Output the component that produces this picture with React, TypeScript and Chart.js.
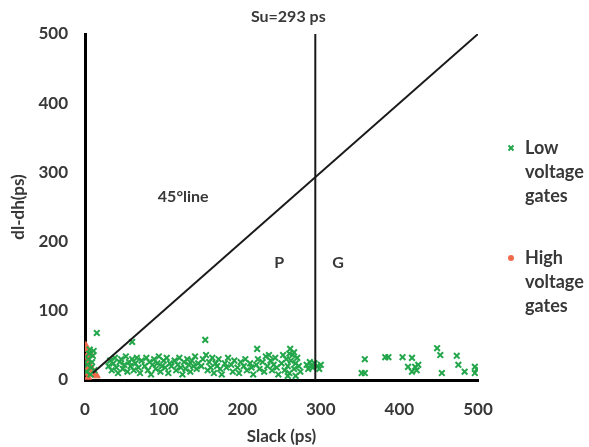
import React, { useEffect, useRef } from "react";
import { Chart, registerables } from "chart.js";

Chart.register(...registerables);

const greenX = [2, 3, 4, 5, 6, 8, 9, 10, 11, 12, 7, 15,
  30, 32, 34, 36, 38, 40, 42, 44, 46, 48, 50, 52, 54, 56, 58, 60, 60, 62, 64, 66, 68, 70, 72,
  76, 78, 80, 82, 84, 86, 88, 90, 92, 94, 96, 98, 100, 102, 104, 106, 108, 110,
  114, 116, 118, 120, 122, 124, 126, 128, 130, 132, 134, 136, 138, 140, 142, 144,
  148, 150, 153, 154, 156, 158, 160, 162, 164, 166, 168, 170, 172, 174,
  178, 180, 182, 186, 188, 190, 194, 196, 198, 202, 204, 206, 210, 212, 214,
  218, 219, 220, 222, 226, 228, 230, 232, 234, 236, 238, 240, 242, 244, 246,
  250, 252, 254, 256, 258, 260, 260, 261, 262, 264, 266, 266, 268, 270, 272, 274, 258, 268,
  282, 284, 286, 288, 290, 292, 296, 298, 300,
  352, 356, 356, 382, 386, 404, 411, 416, 416, 420, 422, 424, 448, 452, 454, 473, 475, 483, 496, 496, 499];
const greenY = [12, 22, 30, 38, 44, 18, 26, 35, 42, 14, 8, 68,
  20, 28, 14, 24, 32, 18, 10, 26, 30, 16, 22, 34, 12, 26, 20, 55, 30, 14, 24, 32, 18, 10, 28,
  20, 32, 14, 26, 8, 22, 30, 16, 24, 34, 12, 20, 28, 18, 32, 10, 24, 20,
  28, 14, 22, 32, 18, 8, 26, 16, 30, 22, 12, 28, 20, 34, 16, 24,
  20, 30, 58, 36, 14, 26, 18, 32, 10, 24, 20, 30, 16, 8,
  24, 18, 32, 22, 12, 28, 18, 10, 26, 20, 30, 14, 24, 18, 8,
  22, 45, 30, 16, 26, 12, 34, 20, 36, 28, 14, 22, 32, 18, 8,
  24, 36, 14, 30, 20, 38, 10, 45, 28, 36, 16, 40, 24, 32, 20, 12, 6, 6,
  22, 16, 26, 20, 18, 24, 20, 16, 22,
  10, 10, 30, 33, 33, 33, 19, 32, 12, 19, 14, 22, 46, 36, 10, 35, 22, 12, 19, 10, 16];

const redX = [1, 2, 2, 3, 3, 3, 5, 6, 8, 10, 12, 15, 4];
const redY = [50, 44, 33, 26, 17, 10, 40, 22, 36, 14, 8, 6, 4];

const xTicks = [0, 100, 200, 300, 400, 500];
const yTicks = [0, 100, 200, 300, 400, 500];

const suValue = 293;
const diagStart = 10;
const diagEnd = 500;

const seriesNames = [["Low", "voltage", "gates"], ["High", "voltage", "gates"]];

const GREEN = "#23a64a";
const RED = "#f26a4b";
const TEXT = "#383838";
const FONT = "Lato";

export default function App() {
  const ref = useRef<HTMLCanvasElement | null>(null);
  useEffect(() => {
    document.body.style.margin = "0";
    const canvas = ref.current!;
    const annot = {
      id: "annot",
      afterDraw(chart: any) {
        const ctx = chart.ctx;
        const xs = chart.scales.x;
        const ys = chart.scales.y;
        ctx.save();
        ctx.fillStyle = TEXT;
        ctx.textAlign = "center";
        ctx.textBaseline = "middle";
        ctx.font = `bold 16px ${FONT}`;
        ctx.fillText("Su=293 ps", xs.getPixelForValue(suValue) - 27, 17);
        ctx.font = `bold 16px ${FONT}`;
        ctx.fillText("45°line", xs.getPixelForValue(125), ys.getPixelForValue(264));
        ctx.fillText("P", xs.getPixelForValue(247), ys.getPixelForValue(169));
        ctx.fillText("G", xs.getPixelForValue(322), ys.getPixelForValue(169));
        // legend
        ctx.textAlign = "left";
        ctx.font = `bold 18px ${FONT}`;
        const lx = 525;
        const tops = [148, 258];
        seriesNames.forEach((lines, i) => {
          lines.forEach((t, j) => {
            ctx.fillStyle = TEXT;
            ctx.fillText(t, lx, tops[i] + j * 24);
          });
        });
        // legend markers
        ctx.strokeStyle = GREEN;
        ctx.lineWidth = 2;
        const mx = 511, my = 148;
        ctx.beginPath();
        ctx.moveTo(mx - 2.5, my - 2.5); ctx.lineTo(mx + 2.5, my + 2.5);
        ctx.moveTo(mx + 2.5, my - 2.5); ctx.lineTo(mx - 2.5, my + 2.5);
        ctx.stroke();
        ctx.fillStyle = RED;
        ctx.beginPath();
        ctx.arc(511, 258, 3, 0, Math.PI * 2);
        ctx.fill();
        ctx.restore();
      },
    };
    const chart = new Chart(canvas, {
      type: "scatter",
      data: {
        datasets: [
          {
            label: "diag",
            data: [{ x: diagStart, y: diagStart }, { x: diagEnd, y: diagEnd }],
            showLine: true,
            borderColor: "#1a1a1a",
            borderWidth: 2,
            pointRadius: 0,
          },
          {
            label: "Su",
            data: [{ x: suValue, y: 0 }, { x: suValue, y: 500 }],
            showLine: true,
            borderColor: "#1a1a1a",
            borderWidth: 2,
            pointRadius: 0,
          },
          {
            label: "Low voltage gates",
            data: greenX.map((x, i) => ({ x, y: greenY[i] })),
            pointStyle: "crossRot",
            pointRadius: 4,
            borderColor: GREEN,
            backgroundColor: GREEN,
            pointBorderWidth: 2,
          },
          {
            label: "High voltage gates",
            data: redX.map((x, i) => ({ x, y: redY[i] })),
            pointStyle: "triangle",
            pointRadius: 4,
            borderColor: RED,
            backgroundColor: RED,
            pointBorderWidth: 1,
          },
        ],
      },
      options: {
        animation: false,
        responsive: false,
        layout: { padding: { top: 34, right: 111, left: 0, bottom: 0 } },
        plugins: { legend: { display: false }, tooltip: { enabled: false } },
        scales: {
          x: {
            type: "linear",
            min: 0,
            max: 500,
            afterBuildTicks: (s: any) => { s.ticks = xTicks.map((v) => ({ value: v })); },
            afterFit: (s: any) => { s.height = 67; },
            grid: { display: false, drawTicks: false },
            border: { display: true, color: "#000", width: 3 },
            ticks: { color: TEXT, font: { family: FONT, size: 17, weight: "bold" }, padding: 19 },
            title: { display: true, text: "Slack (ps)", color: TEXT, font: { family: FONT, size: 17, weight: "bold" }, padding: { top: 0, bottom: 0 } },
          },
          y: {
            type: "linear",
            min: 0,
            max: 500,
            afterBuildTicks: (s: any) => { s.ticks = yTicks.map((v) => ({ value: v })); },
            afterFit: (s: any) => { s.width = 85; },
            grid: { display: false, drawTicks: false },
            border: { display: true, color: "#000", width: 3 },
            ticks: { color: TEXT, font: { family: FONT, size: 17, weight: "bold" }, padding: 17 },
            title: { display: true, text: "dl-dh(ps)", color: TEXT, font: { family: FONT, size: 17, weight: "bold" }, padding: { top: 8, bottom: 0 } },
          },
        },
      },
      plugins: [annot],
    } as any);
    return () => chart.destroy();
  }, []);
  return (
    <div style={{ width: 589, height: 447, background: "#fff" }}>
      <canvas ref={ref} width={589} height={447} style={{ display: "block" }} />
    </div>
  );
}
